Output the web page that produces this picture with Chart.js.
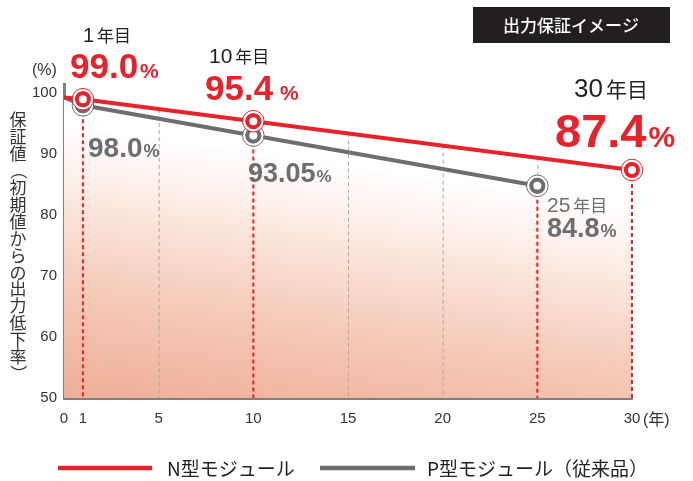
<!DOCTYPE html>
<html><head><meta charset="utf-8">
<script src="https://cdn.jsdelivr.net/npm/chart.js@4"></script>
<style>html,body{margin:0;padding:0;background:#fff}#wrap{width:693px;height:481px;position:relative}</style>
</head><body><div id="wrap"><canvas id="c" width="693" height="481"></canvas></div>
<script>
// ---- data ----
const yearsN = [0, 1, 10, 30];
const valuesN = [99.3, 99.0, 95.4, 87.4];
const yearsP = [0, 1, 10, 25];
const valuesP = [99.3, 98.0, 93.05, 84.8];
const xTicks = [0, 1, 5, 10, 15, 20, 25, 30];
const yTicks = [50, 60, 70, 80, 90, 100];
const seriesNames = ['N型モジュール', 'P型モジュール（従来品）'];
const chartTitle = '出力保証イメージ';
const yTitle = '保証値（初期値からの出力低下率）';
const yUnit = '(%)';
const xUnit = '(年)';
const yearSuffix = '年目';

// ---- styles ----
const RED = '#e8212a';
const GRAY = '#6d6e70';
const DARK = '#231f20';
const NUM = '"Liberation Sans", Arial, sans-serif';
const JP = '"Noto Sans CJK JP", sans-serif';

function fmt(v) { return (Math.round(v * 10) === v * 10) ? v.toFixed(1) : String(v); }

function fillGradient(ctx) {
  const area = ctx.chart.chartArea;
  if (!area) return 'rgba(0,0,0,0)';
  const g = ctx.chart.ctx.createLinearGradient(area.left, area.bottom, area.left + 46, area.top);
  g.addColorStop(0, '#efae96');
  g.addColorStop(0.35, '#f5cbb9');
  g.addColorStop(0.7, '#fdf0ea');
  g.addColorStop(0.86, '#ffffff');
  g.addColorStop(1, '#ffffff');
  return g;
}

function lineYAt(meta, px) {
  const pts = meta.data;
  for (let i = 0; i < pts.length - 1; i++) {
    const a = pts[i], b = pts[i + 1];
    if (px >= a.x - 0.01 && px <= b.x + 0.01) {
      const t = (px - a.x) / (b.x - a.x || 1);
      return a.y + (b.y - a.y) * t;
    }
  }
  return pts[pts.length - 1].y;
}

const guidePlugin = {
  id: 'guides',
  beforeDatasetsDraw(chart) {
    const ctx = chart.ctx, xs = chart.scales.x, area = chart.chartArea;
    const metaN = chart.getDatasetMeta(0), metaP = chart.getDatasetMeta(1);
    ctx.save();
    xTicks.forEach(t => {
      if (t === 0) return;
      const px = xs.getPixelForValue(t);
      const top = lineYAt(metaN, px);
      let marker = null;
      const iN = yearsN.indexOf(t), iP = yearsP.indexOf(t);
      if (iN > 0) marker = metaN.data[iN].y;
      if (iP > 0) marker = Math.max(marker ?? -1, metaP.data[iP].y);
      ctx.setLineDash([4, 3]);
      if (marker === null) {
        ctx.strokeStyle = '#a9a9a9'; ctx.lineWidth = 1;
        ctx.beginPath(); ctx.moveTo(px + 0.5, top); ctx.lineTo(px + 0.5, area.bottom); ctx.stroke();
      } else {
        if (iN <= 0) {
          ctx.strokeStyle = '#a9a9a9'; ctx.lineWidth = 1;
          ctx.beginPath(); ctx.moveTo(px + 0.5, top); ctx.lineTo(px + 0.5, marker); ctx.stroke();
        }
        ctx.strokeStyle = RED; ctx.lineWidth = 2;
        ctx.beginPath(); ctx.moveTo(px, marker); ctx.lineTo(px, area.bottom); ctx.stroke();
      }
    });
    ctx.restore();
  },
  afterDatasetsDraw(chart) {
    const ctx = chart.ctx;
    [1, 0].forEach(di => {
      const meta = chart.getDatasetMeta(di);
      const color = di === 0 ? RED : GRAY;
      meta.data.forEach((pt, i) => {
        if (i === 0) return;
        ctx.save();
        ctx.strokeStyle = '#ffffff'; ctx.lineWidth = 2.5;
        ctx.beginPath(); ctx.arc(pt.x, pt.y, 9.2, 0, Math.PI * 2); ctx.stroke();
        ctx.strokeStyle = color; ctx.lineWidth = 1;
        ctx.beginPath(); ctx.arc(pt.x, pt.y, 10.8, 0, Math.PI * 2); ctx.stroke();
        ctx.restore();
        pt.draw(ctx, chart.chartArea);
      });
    });
  },
  afterDraw(chart) {
    const ctx = chart.ctx, xs = chart.scales.x;
    ctx.save();
    ctx.textBaseline = 'alphabetic';
    ctx.textAlign = 'left';
    function heading(num, x, base, ns, ss, color) {
      ctx.fillStyle = color;
      ctx.font = ns + 'px ' + NUM;
      ctx.fillText(num, x, base);
      const w = ctx.measureText(num).width;
      ctx.font = ss + 'px ' + JP;
      ctx.fillText(yearSuffix, x + w + 3, base);
    }
    function pct(val, x, base, ns, ps, color, gap) {
      ctx.fillStyle = color;
      ctx.font = 'bold ' + ns + 'px ' + NUM;
      ctx.fillText(val, x, base);
      const w = ctx.measureText(val).width;
      ctx.font = 'bold ' + ps + 'px ' + NUM;
      ctx.fillText('%', x + w + gap, base);
    }
    // N labels
    heading(String(yearsN[1]), 83, 42, 20, 17, DARK);
    pct(fmt(valuesN[1]), 70, 78, 35, 21, RED, 2);
    heading(String(yearsN[2]), 209, 63, 21, 17, DARK);
    pct(fmt(valuesN[2]), 205, 100, 35, 21, RED, 7);
    heading(String(yearsN[3]), 574, 97, 26, 21, DARK);
    pct(fmt(valuesN[3]), 555, 147, 47, 30, RED, 2);
    // P labels
    pct(fmt(valuesP[1]), 88, 157, 28, 18, GRAY, 1);
    pct(fmt(valuesP[2]), 248, 182, 27, 17, GRAY, 1);
    heading(String(yearsP[3]), 547, 212, 21, 17, GRAY);
    pct(fmt(valuesP[3]), 547, 237, 27, 18, GRAY, 1);

    // units
    ctx.fillStyle = '#333';
    ctx.font = '16px ' + NUM + ', ' + JP;
    ctx.fillText(yUnit, 32, 75);
    ctx.textBaseline = 'middle';
    ctx.fillText(xUnit, xs.getPixelForValue(30) + 11, 421);

    // title box
    ctx.fillStyle = DARK;
    ctx.fillRect(473, 7, 197, 36);
    ctx.fillStyle = '#fff';
    ctx.font = '500 17px ' + JP;
    ctx.textAlign = 'center';
    ctx.fillText(chartTitle, 571, 26);

    // vertical y title
    ctx.fillStyle = '#333';
    ctx.font = '17px ' + JP;
    const chars = Array.from(yTitle);
    chars.forEach((ch, i) => {
      const cy = 120 + i * 16.9;
      if (ch === '（' || ch === '）') {
        ctx.save();
        ctx.translate(18, cy);
        ctx.rotate(Math.PI / 2);
        ctx.fillText(ch, 0, 0);
        ctx.restore();
      } else {
        ctx.fillText(ch, 18, cy);
      }
    });

    // legend
    const ds = chart.data.datasets;
    const items = [{x1: 58, x2: 152, tx: 167}, {x1: 320, x2: 415, tx: 427}];
    ctx.textAlign = 'left';
    ctx.font = '19px ' + JP;
    items.forEach((it, i) => {
      ctx.strokeStyle = ds[i].borderColor; ctx.lineWidth = 4.5;
      ctx.beginPath(); ctx.moveTo(it.x1, 468); ctx.lineTo(it.x2, 468); ctx.stroke();
      ctx.fillStyle = DARK;
      ctx.fillText(ds[i].label, it.tx, 469);
    });
    ctx.restore();
  }
};

new Chart(document.getElementById('c'), {
  type: 'line',
  data: {
    datasets: [
      {
        label: seriesNames[0],
        data: yearsN.map((x, i) => ({x, y: valuesN[i]})),
        borderColor: RED, borderWidth: 4,
        backgroundColor: fillGradient,
        fill: 'start',
        pointRadius: yearsN.map((_, i) => i === 0 ? 0 : 6),
        pointBorderWidth: 4,
        pointBackgroundColor: '#fff', pointBorderColor: RED,
        tension: 0, order: 0
      },
      {
        label: seriesNames[1],
        data: yearsP.map((x, i) => ({x, y: valuesP[i]})),
        borderColor: GRAY, borderWidth: 4,
        fill: false,
        pointRadius: yearsP.map((_, i) => i === 0 ? 0 : 6),
        pointBorderWidth: 4,
        pointBackgroundColor: '#fff', pointBorderColor: GRAY,
        tension: 0, order: 1
      }
    ]
  },
  options: {
    responsive: false, animation: false, devicePixelRatio: 1,
    layout: {padding: {left: 0, right: 61, top: 84, bottom: 0}},
    plugins: {legend: {display: false}, tooltip: {enabled: false}, filler: {drawTime: 'beforeDatasetsDraw'}},
    scales: {
      x: {
        type: 'linear', min: 0, max: 30,
        afterBuildTicks: s => { s.ticks = xTicks.map(v => ({value: v})); },
        afterFit: s => { s.height = 83; },
        grid: {display: false, drawTicks: false},
        border: {color: '#808080', width: 3},
        ticks: {autoSkip: false, maxRotation: 0, padding: 12, color: '#333', font: {family: NUM, size: 15}}
      },
      y: {
        min: 50, max: 101.5,
        afterBuildTicks: s => { s.ticks = yTicks.map(v => ({value: v})); },
        afterFit: s => { s.width = 64; },
        grid: {display: false, drawTicks: false},
        border: {color: '#808080', width: 3},
        ticks: {padding: 7, color: '#333', font: {family: NUM, size: 15}}
      }
    }
  },
  plugins: [guidePlugin]
});
</script>
</body></html>
